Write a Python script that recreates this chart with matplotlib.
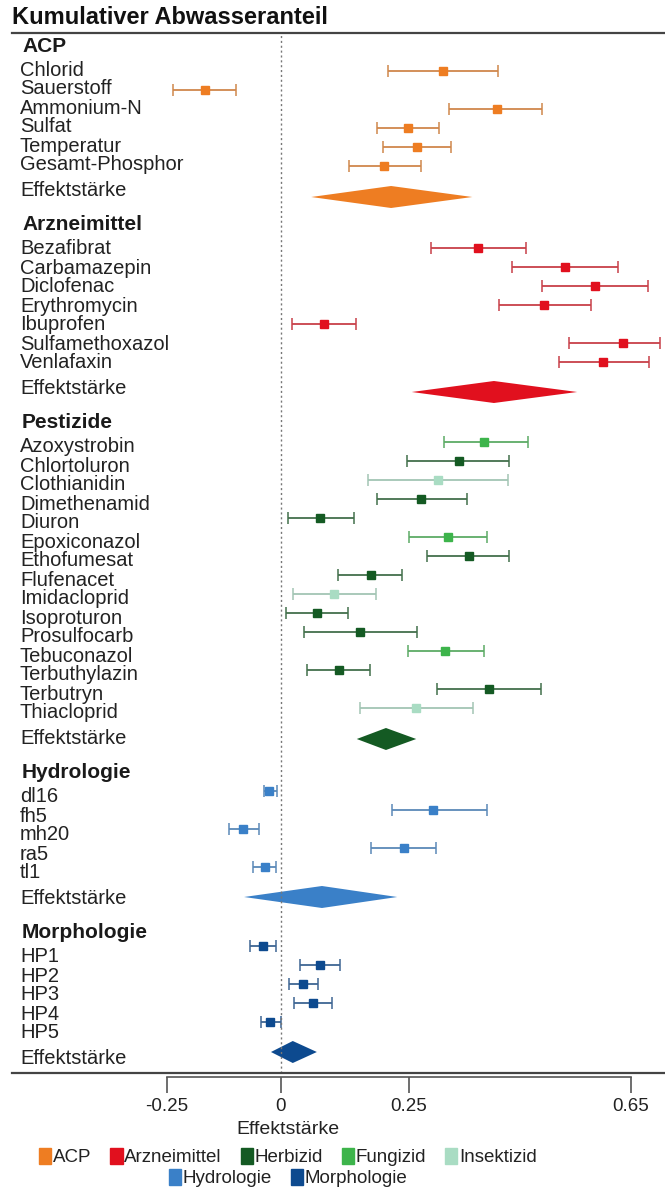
import numpy as np
import matplotlib.pyplot as plt
from matplotlib.patches import Patch

plt.rcParams['font.family'] = ['Liberation Sans', 'DejaVu Sans']

# ---- Farben ----
c_acp = '#EE7D22'
c_arz = '#E1101E'
c_herb = '#145A23'
c_fung = '#3DB44B'
c_ins = '#A9DCC3'
c_hyd = '#3A80C8'
c_mor = '#0D4A8F'

# ---- Daten: Effektstaerke mit unterer / oberer Grenze ----
acp_names = ['Chlorid', 'Sauerstoff', 'Ammonium-N', 'Sulfat', 'Temperatur', 'Gesamt-Phosphor']
acp_est = [0.311, -0.167, 0.409, 0.248, 0.264, 0.201]
acp_lo = [0.209, -0.237, 0.322, 0.188, 0.199, 0.133]
acp_hi = [0.410, -0.099, 0.490, 0.304, 0.326, 0.271]
acp_pool = [0.059, 0.215, 0.364]

arz_names = ['Bezafibrat', 'Carbamazepin', 'Diclofenac', 'Erythromycin', 'Ibuprofen',
             'Sulfamethoxazol', 'Venlafaxin']
arz_est = [0.374, 0.531, 0.586, 0.494, 0.084, 0.636, 0.600]
arz_lo = [0.290, 0.436, 0.490, 0.412, 0.022, 0.538, 0.520]
arz_hi = [0.461, 0.627, 0.681, 0.578, 0.146, 0.703, 0.683]
arz_pool = [0.255, 0.403, 0.553]

pest_names = ['Azoxystrobin', 'Chlortoluron', 'Clothianidin', 'Dimethenamid', 'Diuron',
              'Epoxiconazol', 'Ethofumesat', 'Flufenacet', 'Imidacloprid', 'Isoproturon',
              'Prosulfocarb', 'Tebuconazol', 'Terbuthylazin', 'Terbutryn', 'Thiacloprid']
pest_typ = ['Fungizid', 'Herbizid', 'Insektizid', 'Herbizid', 'Herbizid',
            'Fungizid', 'Herbizid', 'Herbizid', 'Insektizid', 'Herbizid',
            'Herbizid', 'Fungizid', 'Herbizid', 'Herbizid', 'Insektizid']
pest_est = [0.385, 0.340, 0.302, 0.272, 0.076, 0.320, 0.358, 0.176, 0.104, 0.070,
            0.154, 0.315, 0.113, 0.394, 0.263]
pest_lo = [0.313, 0.246, 0.170, 0.188, 0.014, 0.250, 0.282, 0.111, 0.023, 0.010,
           0.045, 0.248, 0.051, 0.300, 0.154]
pest_hi = [0.464, 0.430, 0.428, 0.355, 0.143, 0.391, 0.430, 0.236, 0.186, 0.131,
           0.264, 0.385, 0.174, 0.488, 0.365]
pest_pool = [0.148, 0.205, 0.263]

hyd_names = ['dl16', 'fh5', 'mh20', 'ra5', 'tl1']
hyd_est = [-0.027, 0.294, -0.083, 0.240, -0.035]
hyd_lo = [-0.038, 0.217, -0.114, 0.176, -0.061]
hyd_hi = [-0.009, 0.390, -0.048, 0.299, -0.011]
hyd_pool = [-0.081, 0.080, 0.227]

mor_names = ['HP1', 'HP2', 'HP3', 'HP4', 'HP5']
mor_est = [-0.040, 0.076, 0.042, 0.063, -0.024]
mor_lo = [-0.069, 0.037, 0.016, 0.025, -0.044]
mor_hi = [-0.011, 0.115, 0.072, 0.099, -0.001]
mor_pool = [-0.022, 0.023, 0.070]

typ_farbe = {'Herbizid': c_herb, 'Fungizid': c_fung, 'Insektizid': c_ins}

groups = [
    ('ACP', acp_names, acp_est, acp_lo, acp_hi, [c_acp] * 6, acp_pool, c_acp),
    ('Arzneimittel', arz_names, arz_est, arz_lo, arz_hi, [c_arz] * 7, arz_pool, c_arz),
    ('Pestizide', pest_names, pest_est, pest_lo, pest_hi,
     [typ_farbe[t] for t in pest_typ], pest_pool, c_herb),
    ('Hydrologie', hyd_names, hyd_est, hyd_lo, hyd_hi, [c_hyd] * 5, hyd_pool, c_hyd),
    ('Morphologie', mor_names, mor_est, mor_lo, mor_hi, [c_mor] * 5, mor_pool, c_mor),
]

# Achse der Originalgrafik ist stueckweise linear
knot_v = [-1.0, -0.25, 0.0, 0.25, 0.65, 1.5]
knot_p = [167 - 0.75 * 456, 167, 281, 409, 631, 631 + 0.85 * 555]


def fwd(v):
    return np.interp(v, knot_v, knot_p)


def inv(p):
    return np.interp(p, knot_p, knot_v)


def blass(c, k=0.35):
    rgb = np.array(plt.matplotlib.colors.to_rgb(c))
    return tuple((1 - k) * rgb + k * 0.6)


W, H = 665, 1192
fig = plt.figure(figsize=(W / 100, H / 100), dpi=100)
top, bot = 33, 1073
ax = fig.add_axes([12 / W, (H - bot) / H, (W - 12) / W, (bot - top) / H])
ax.set_xscale('function', functions=(fwd, inv))
ax.set_xlim(inv(12), inv(665))
ax.set_ylim(bot, top)

lab_x = (20 - 12) / (W - 12)
head_x = (22 - 12) / (W - 12)
ytr = ax.get_yaxis_transform()
# Versatz der Marker gegen die Beschriftung (Pixel), wie im Original
lift = [-1, 1.5, 4.7, 6, 11]
drop = [7, 4, 1, -1, -6]

y = 46
for k, (titel, names, est, lo, hi, cols, pool, pcol) in enumerate(groups):
    ax.text(head_x, y, titel, transform=ytr, fontsize=15, fontweight='bold',
            color='#1a1a1a', va='center', ha='left')
    y += 24
    for i in range(len(names)):
        ax.text(lab_x, y, names[i], transform=ytr, fontsize=14.5, color='#222222',
                va='center', ha='left')
        ym = y - lift[k]
        ax.errorbar(est[i], ym, xerr=[[est[i] - lo[i]], [hi[i] - est[i]]], fmt='s',
                    ms=6, color=cols[i], ecolor=blass(cols[i]), elinewidth=1.3,
                    capsize=4.3, capthick=1.1)
        y += 19
    y += 25 - 19
    ax.text(lab_x, y, 'Effektstärke', transform=ytr, fontsize=14.5, color='#222222',
            va='center', ha='left')
    lo_p, mid_p, hi_p = pool
    yd = y + drop[k]
    ax.fill([lo_p, mid_p, hi_p, mid_p], [yd, yd - 11, yd, yd + 11], color=pcol, lw=0)
    y += 35

ax.axvline(0, color='#777777', lw=1, ls=(0, (1.5, 2)))
ax.axhline(bot, color='#444444', lw=1.6, clip_on=False)

for s in ['left', 'right']:
    ax.spines[s].set_visible(False)
ax.spines['top'].set_color('#444444')
ax.spines['top'].set_linewidth(1.6)
ax.spines['bottom'].set_position(('outward', 3))
ax.spines['bottom'].set_bounds(-0.25, 0.65)
ax.spines['bottom'].set_color('#555555')
ax.spines['bottom'].set_linewidth(1.2)
ax.set_yticks([])
ax.set_xticks([-0.25, 0, 0.25, 0.65])
ax.set_xticklabels(['-0.25', '0', '0.25', '0.65'])
ax.tick_params(axis='x', direction='out', length=11.5, width=1.2, color='#555555',
               labelsize=13.5, labelcolor='#222222', pad=3.5)

fig.text(12 / W, 1 - 18 / H, 'Kumulativer Abwasseranteil', fontsize=17,
         fontweight='bold', color='#111111', va='center', ha='left')
fig.text(288 / W, 1 - 1129 / H, 'Effektstärke', fontsize=14, color='#222222',
         va='center', ha='center')

reihe1 = [Patch(color=c_acp, label='ACP'), Patch(color=c_arz, label='Arzneimittel'),
          Patch(color=c_herb, label='Herbizid'), Patch(color=c_fung, label='Fungizid'),
          Patch(color=c_ins, label='Insektizid')]
reihe2 = [Patch(color=c_hyd, label='Hydrologie'), Patch(color=c_mor, label='Morphologie')]
opts = dict(loc='center', frameon=False, fontsize=13.5, handlelength=0.65,
            handleheight=1.0, handletextpad=0.1, columnspacing=1.0,
            borderpad=0, borderaxespad=0)
l1 = fig.legend(handles=reihe1, ncol=5, bbox_to_anchor=(288 / W, 1 - 1157 / H), **opts)
l2 = fig.legend(handles=reihe2, ncol=2, bbox_to_anchor=(288 / W, 1 - 1178 / H), **opts)
for t in l1.get_texts() + l2.get_texts():
    t.set_color('#222222')

fig.savefig('out.png', dpi=100)
